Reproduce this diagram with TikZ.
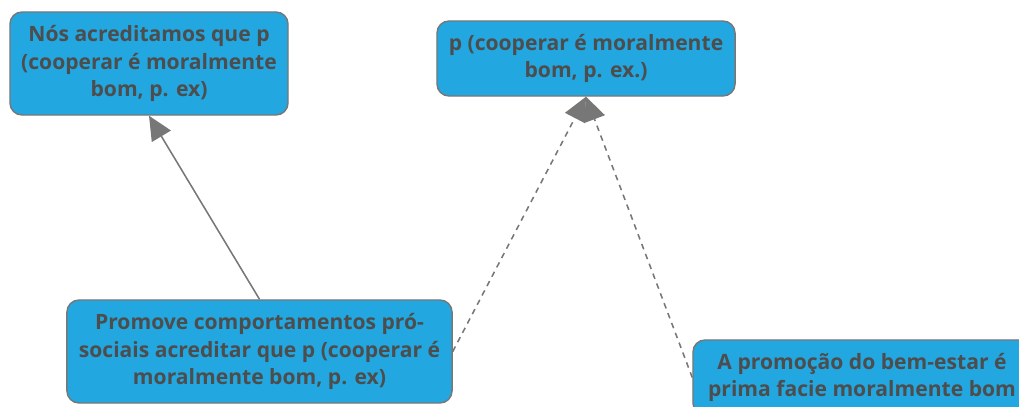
\documentclass[tikz,border=0pt]{standalone}
\usepackage{fontspec}
\setmainfont{Open Sans}
\usetikzlibrary{positioning, arrows.meta, calc}

\definecolor{boxblue}{HTML}{22A7E0}
\definecolor{boxtext}{HTML}{4D4D4D}
\definecolor{edgegray}{HTML}{777777}

\begin{document}
\begin{tikzpicture}[
    x=0.025cm, y=-0.025cm,
    >={Triangle[width=0.55cm, length=0.6cm]},
    arrow/.style={
        ->,
        draw=edgegray,
        line width=1.1pt
    },
    dasharrow/.style={
        arrow,
        dash pattern=on 4pt off 3.5pt
    },
    idea/.style={
        rectangle,
        fill=boxblue,
        draw=edgegray,
        line width=1pt,
        rounded corners=3mm,
        text=boxtext,
        font=\bfseries\fontsize{15}{19.3}\selectfont,
        align=center,
        inner sep=0pt
    }
]

    \useasboundingbox (0,0) rectangle (1019,407);

    % Beliefs
    \node[idea, minimum width=6.95cm, minimum height=2.575cm] (belief) at (149,63.5)
        {Nós acreditamos que p\\(cooperar é moralmente\\bom, p. ex)};
    \node[idea, minimum width=7.45cm, minimum height=1.875cm] (claim) at (586,58.5)
        {p (cooperar é moralmente\\bom, p. ex.)};

    % Reasons
    \node[idea, minimum width=9.625cm, minimum height=2.575cm] (prosocial) at (259.5,351.5)
        {Promove comportamentos pró-\\sociais acreditar que p (cooperar é\\moralmente bom, p. ex)};
    \node[idea, minimum width=8.45cm, minimum height=1.875cm] (welfare) at (862,377.5)
        {A promoção do bem-estar é\\prima facie moralmente bom};

    % Connections
    \draw[arrow] (prosocial.north) -- (belief.south);
    \draw[dasharrow] (prosocial.east) -- (claim.south);
    \draw[dasharrow] (welfare.west) -- (claim.south);

\end{tikzpicture}
\end{document}
